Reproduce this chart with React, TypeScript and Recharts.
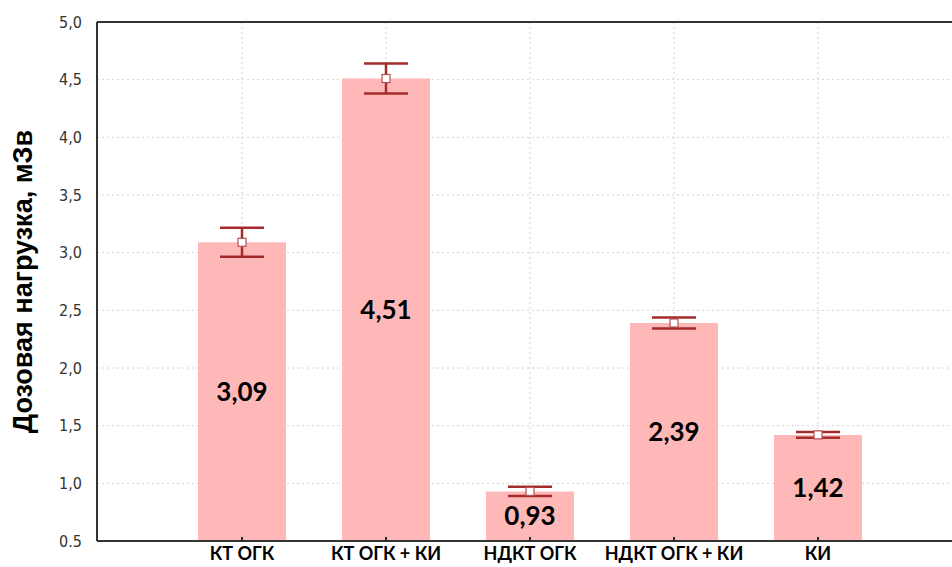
import { Bar, CartesianGrid, ComposedChart, ErrorBar, LabelList, ReferenceLine, Scatter, XAxis, YAxis } from "recharts";

const categories = ["КТ ОГК", "КТ ОГК + КИ", "НДКТ ОГК", "НДКТ ОГК + КИ", "КИ"];
const doses = [3.09, 4.51, 0.93, 2.39, 1.42];
const errors = [0.125, 0.13, 0.04, 0.048, 0.025];
const yTicks = [0.5, 1, 1.5, 2, 2.5, 3, 3.5, 4, 4.5, 5];
const yTickLabels = ["0.5", "1,0", "1,5", "2,0", "2,5", "3,0", "3,5", "4,0", "4,5", "5,0"];

const data = categories.map((name, i) => ({ name, dose: doses[i], err: errors[i] }));

const comma = (v: number) => v.toFixed(2).replace(".", ",");

function MeanMarker(props: any) {
  const { cx, cy } = props;
  if (cx == null || cy == null) return null;
  return <rect x={cx - 4} y={cy - 4} width={8} height={8} fill="#fff" stroke="#b5504f" strokeWidth={1.2} />;
}

const xPad = { left: 73, right: 77 };

export default function App() {
  return (
    <div style={{ position: "fixed", left: 0, top: 0, width: 952, height: 567, overflow: "hidden", background: "#fff" }}>
      <ComposedChart
        width={975}
        height={567}
        data={data}
        margin={{ top: 22, right: 8, bottom: 0, left: 0 }}
        barCategoryGap={28}
      >
        <CartesianGrid stroke="#d2d2d2" strokeDasharray="2 3" />
        <XAxis
          dataKey="name"
          padding={xPad}
          axisLine={{ stroke: "#333", strokeWidth: 2 }}
          tickLine={{ stroke: "#222", strokeWidth: 2 }}
          tickSize={-4}
          tickMargin={10}
          height={26}
          tick={{ fill: "#000", fontSize: 18, fontWeight: 700, fontFamily: "Lato" }}
        />
        <XAxis
          xAxisId="top"
          orientation="top"
          dataKey="name"
          padding={xPad}
          axisLine={{ stroke: "#333", strokeWidth: 2 }}
          tickLine={{ stroke: "#222", strokeWidth: 2 }}
          tickSize={-4}
          tick={false}
          height={0}
        />
        <YAxis
          domain={[0.5, 5]}
          ticks={yTicks}
          width={97}
          interval={0}
          axisLine={{ stroke: "#333", strokeWidth: 2 }}
          tickLine={false}
          tickMargin={9}
          tickFormatter={(v: number) => yTickLabels[yTicks.indexOf(v)] ?? String(v)}
          tick={{ fill: "#333", fontSize: 16, fontFamily: "Liberation Sans Narrow, DejaVu Sans Condensed" }}
          label={{
            value: "Дозовая нагрузка, мЗв",
            angle: -90,
            position: "insideLeft",
            offset: 22,
            style: { fill: "#000", fontSize: 27, fontWeight: 700, fontFamily: "Liberation Sans", textAnchor: "middle" },
          }}
        />
        <Bar dataKey="dose" fill="#ffb8b8" isAnimationActive={false}>
          <ErrorBar dataKey="err" width={22} stroke="#a52a2a" strokeWidth={2.5} direction="y" />
          <LabelList
            dataKey="dose"
            position="center"
            formatter={(v: any) => comma(Number(v))}
            style={{ fill: "#000", fontSize: 26, fontWeight: 700, fontFamily: "Lato" }}
          />
        </Bar>
        <Scatter dataKey="dose" shape={<MeanMarker />} isAnimationActive={false} />
        <ReferenceLine y={5} stroke="#333" strokeWidth={2} />
      </ComposedChart>
    </div>
  );
}
